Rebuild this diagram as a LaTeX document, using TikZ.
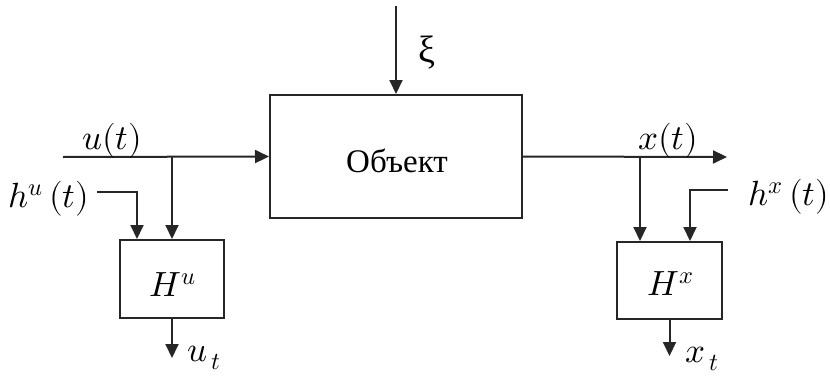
\documentclass[tikz,border=0pt]{standalone}
\usepackage{fontspec}
\usepackage{unicode-math}
\setmainfont{Liberation Serif}
\setmathfont{Latin Modern Math}
\usetikzlibrary{arrows.meta}
\begin{document}
\begin{tikzpicture}[x=1pt,y=-1pt,
  box/.style={draw=black!85,line width=2pt,rectangle,inner sep=0pt},
  sig/.style={draw=black!85,line width=2pt,-{Triangle[length=14pt,width=13pt]}},
  lbl/.style={inner sep=0pt,font=\fontsize{33}{38}\selectfont},
  mlbl/.style={inner sep=0pt,font=\fontsize{35}{40}\selectfont}]
\useasboundingbox (0,0) rectangle (830,383);
% blocks
\node[box,minimum width=252pt,minimum height=123pt] (obj) at (396,156.5) {};
\node[lbl] (objtxt) at (397,161) {Объект};
\node[box,minimum width=104pt,minimum height=78pt] (Hu) at (172,279) {};
\node[box,minimum width=105pt,minimum height=77pt] (Hx) at (669.5,280.5) {};
\node[mlbl] (Hutxt) at (173,285) {$H^{u}$};
\node[mlbl] (Hxtxt) at (671,284) {$H^{x}$};
% free ends
\coordinate (xitop) at (396,6);
\coordinate (uin) at (63,157);
\coordinate (ubr) at (172,157);
\coordinate (hus) at (97,192);
\coordinate (xout) at (727,157);
\coordinate (xbr) at (640,157);
\coordinate (hxs) at (728,190);
\coordinate (utend) at (172,358);
\coordinate (xtend) at (669.5,356);
% connectors
\draw[sig] (xitop) -- (obj.north);
\draw[sig] (uin) -- (obj.west);
\draw[sig] (ubr) -- (Hu.north);
\draw[sig] (hus) -| ([xshift=-35pt]Hu.north);
\draw[sig] (obj.east) -- (xout);
\draw[sig] (xbr) -- (xbr |- Hx.north);
\draw[sig] (hxs) -| ([xshift=20.5pt]Hx.north);
\draw[sig] (Hu.south) -- (utend);
\draw[sig] (Hx.south) -- (xtend);
% labels
\node[inner sep=0pt,font=\fontsize{38}{42}\selectfont] (xi) at (427,53) {ξ};
\node[mlbl] (ut) at (112,141) {$u(t)$};
\node[mlbl] (hu) at (49,199) {$h^{u}\,(t)$};
\node[mlbl] (xt) at (668,141) {$x(t)$};
\node[mlbl] (hx) at (789,197) {$h^{x}\,(t)$};
\node[mlbl,anchor=west] (usub) at (187,358) {$u_{\,t}$};
\node[mlbl,anchor=west] (xsub) at (685,359) {$x_{\,t}$};
\end{tikzpicture}
\end{document}
